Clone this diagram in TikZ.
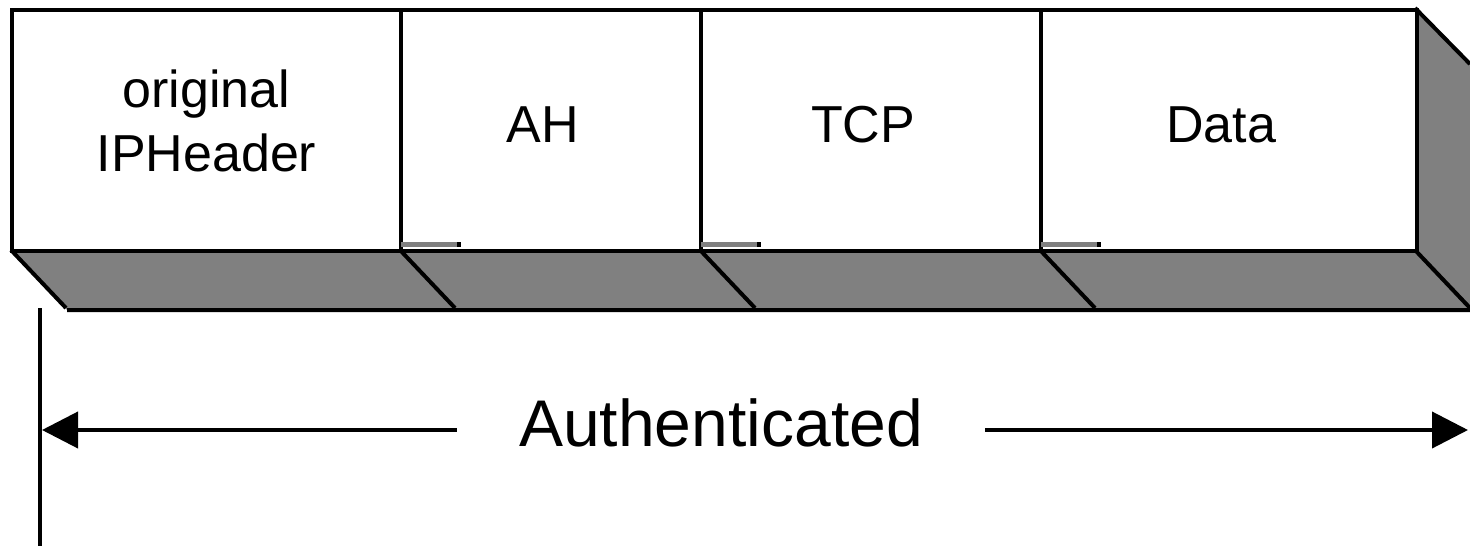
\documentclass[tikz,border=0pt]{standalone}
\usepackage{fontspec}
\setmainfont{Liberation Sans}
\usetikzlibrary{arrows.meta,calc,positioning}
\definecolor{shadowgray}{RGB}{128,128,128}
\tikzset{
  box/.style={draw,line width=4pt,fill=white,minimum height=241pt,inner sep=0pt,anchor=north west},
  lbl/.style={font=\fontsize{52}{64}\selectfont,align=center},
  arr/.style={line width=4pt,-{Triangle[length=36pt,width=36pt]}},
}

\begin{document}
\begin{tikzpicture}[x=1pt,y=-1pt,line join=miter]
			\useasboundingbox (0,0) rectangle (1470,546);
			% shadow under and right of the packet
			\fill[shadowgray] (11,250)--(67,310)--(1470,310)--(1470,64)--(1415,8)--(1415,250)--cycle;
			\foreach \x in {11,400,700,1040,1415}
			\draw[line width=4pt] (\x,250)--++(55,58);
			\draw[line width=4pt] (1415,8)--(1470,64) (67,310)--(1470,310);
			% packet fields
			\foreach \a\b\n in {10/399/iph,399/699/ah,699/1039/tcp,1039/1415/data}
			\node[box,minimum width=\b pt-\a pt] (\n) at (\a,8) {};
			\foreach \x in {399,699,1039}{
				\fill[shadowgray] (\x+2,242) rectangle (\x+59,247);
				\draw[line width=4pt] (\x+60,242)--(\x+60,247);
			}
			\node[lbl,yshift=10pt] (iphtxt) at (iph.center) {original\\IPHeader};
			\node[lbl,yshift=6pt,xshift=-8pt] (ahtxt) at (ah.center) {AH};
			\node[lbl,yshift=6pt,xshift=-8pt] (tcptxt) at (tcp.center) {TCP};
			\node[lbl,yshift=6pt,xshift=-8pt] (datatxt) at (data.center) {Data};
			% authenticated range
			\coordinate (vtop) at (40,308);
			\coordinate (vbot) at (40,546);
			\draw[line width=4pt] (vtop)--(vbot);
			\coordinate (lend) at (42,430);
			\coordinate (rend) at (1468,430);
			\node[font=\fontsize{66}{78}\selectfont,inner xsep=62pt] (auth) at (721,423) {Authenticated};
			\draw[arr] (auth.west |- lend)--(lend);
			\draw[arr] (auth.east |- rend)--(rend);
		\end{tikzpicture}
\end{document}
